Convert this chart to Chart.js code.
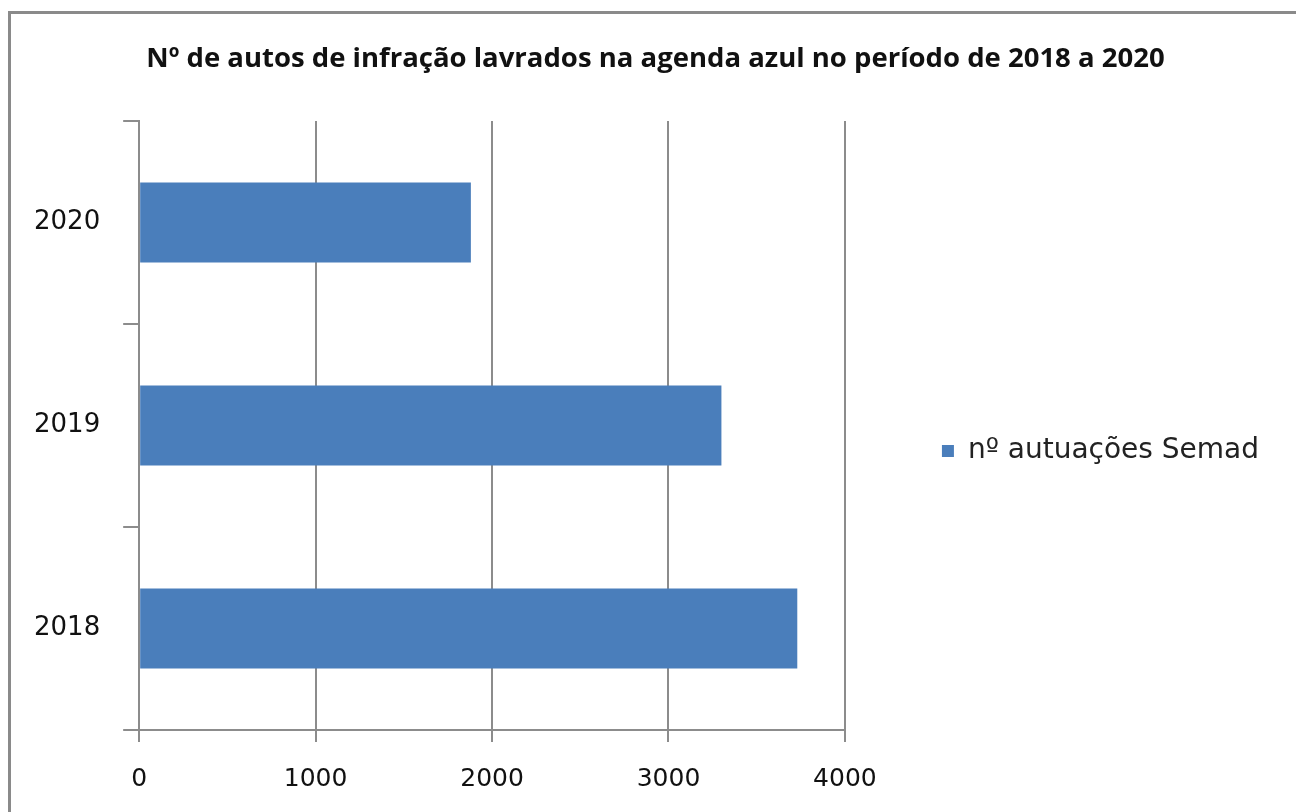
<!DOCTYPE html>
<html>
<head>
<meta charset="utf-8">
<script src="https://cdn.jsdelivr.net/npm/chart.js@4"></script>
<style>
  html, body { margin: 0; padding: 0; background: #fff; }
  .box { position: relative; width: 1296px; height: 812px; overflow: hidden; }
  .box canvas { position: absolute; left: 0; top: 0; }
  .moldura { position: absolute; left: 8px; top: 11px; width: 1400px; height: 900px; border: 3px solid #8a8a8a; pointer-events: none; }
</style>
</head>
<body>
<div class="box">
  <canvas class="grafico" width="1296" height="812"></canvas>
  <div class="moldura"></div>
</div>
<script>
const anos = ['2018', '2019', '2020']
const autuacoes = [3730, 3300, 1880]
const rotuloSerie = 'nº autuações Semad'
const titulo = 'Nº de autos de infração lavrados na agenda azul no período de 2018 a 2020'

const cinza = '#8c8c8c'
const fonteTexto = "'DejaVu Sans', sans-serif"

// legenda um pouco mais à direita/abaixo e título centrado na página, como no original
const ajustarCaixas = {
    id: 'ajustarCaixas',
    afterLayout(chart) {
        chart.legend.left += 47
        chart.legend.right += 80
        chart.legend.top += 43
        chart.legend.bottom += 43
        chart.titleBlock.right += 78
    }
}

const context = document.querySelector('.grafico').getContext('2d')

const grafico = new Chart(context, {
    type: 'bar',
    data: {
        labels: anos,
        datasets: [
            {
                label: rotuloSerie,
                data: autuacoes,
                backgroundColor: '#4a7ebb',
                borderWidth: 0,
                barPercentage: 0.395,
                categoryPercentage: 1
            }
        ]
    },
    options: {
        indexAxis: 'y',
        responsive: false,
        animation: false,
        layout: {
            padding: { left: 11, right: 74, top: 0, bottom: -4 }
        },
        plugins: {
            title: {
                display: true,
                text: titulo,
                color: '#111',
                font: { family: "'Open Sans', sans-serif", size: 27.5, weight: 'bold' },
                padding: { top: 43, bottom: 45 }
            },
            legend: {
                position: 'right',
                maxWidth: 500,
                labels: {
                    boxWidth: 12,
                    boxHeight: 12,
                    padding: 50,
                    color: '#222',
                    font: { family: fonteTexto, size: 28 }
                }
            },
            tooltip: { enabled: false }
        },
        scales: {
            x: {
                min: 0,
                max: 4000,
                ticks: {
                    stepSize: 1000,
                    padding: 22,
                    color: '#111',
                    font: { family: fonteTexto, size: 25 },
                    callback: (v) => String(v)
                },
                grid: { color: cinza, lineWidth: 2, tickLength: 12 },
                border: { color: cinza, width: 2 }
            },
            y: {
                reverse: true,
                ticks: {
                    padding: 23,
                    color: '#111',
                    font: { family: fonteTexto, size: 26 }
                },
                grid: { drawOnChartArea: false, offset: true, color: cinza, lineWidth: 2, tickLength: 16 },
                border: { color: cinza, width: 2 }
            }
        }
    },
    plugins: [ajustarCaixas]
})
</script>
</body>
</html>
